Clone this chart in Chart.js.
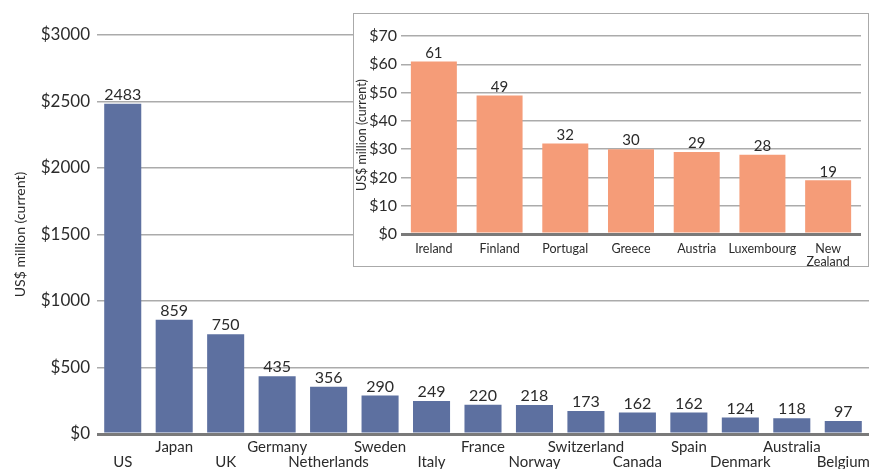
<!DOCTYPE html>
<html>
<head>
<meta charset="utf-8">
<script src="https://cdn.jsdelivr.net/npm/chart.js@4/dist/chart.umd.min.js"></script>
<style>
  html, body { margin: 0; padding: 0; background: #fff; }
  #wrap { position: relative; width: 869px; height: 469px; overflow: hidden; }
  #main { position: absolute; left: 0; top: 0; }
  #insetBox {
    position: absolute; left: 353px; top: 13px; width: 514px; height: 252px;
    background: #fff; border: 1.5px solid #aaa;
  }
  #inset { position: absolute; left: 0; top: 0; }
</style>
</head>
<body>
<div id="wrap">
  <canvas id="main" width="869" height="469"></canvas>
  <div id="insetBox"><canvas id="inset" width="514" height="252"></canvas></div>
</div>
<script>
// ── Data ──────────────────────────────────────────────
const mainCountries = ['US', 'Japan', 'UK', 'Germany', 'Netherlands', 'Sweden', 'Italy', 'France',
  'Norway', 'Switzerland', 'Canada', 'Spain', 'Denmark', 'Australia', 'Belgium']
const mainValues = [2483, 859, 750, 435, 356, 290, 249, 220, 218, 173, 162, 162, 124, 118, 97]
const mainTicks = [0, 500, 1000, 1500, 2000, 2500, 3000]

const insetCountries = ['Ireland', 'Finland', 'Portugal', 'Greece', 'Austria', 'Luxembourg', ['New', 'Zealand']]
const insetValues = [61, 49, 32, 30, 29, 28, 19]
const insetTicks = [0, 10, 20, 30, 40, 50, 60, 70]

const FONT = 'Lato, "Open Sans", sans-serif'
const TEXT = '#2b2b2b'

// ── Value labels above bars ───────────────────────────
const valueLabels = {
  id: 'valueLabels',
  afterDatasetsDraw(chart, args, opts) {
    const ctx = chart.ctx
    const meta = chart.getDatasetMeta(0)
    ctx.save()
    ctx.font = opts.size + 'px ' + FONT
    ctx.fillStyle = TEXT
    ctx.textAlign = 'center'
    ctx.textBaseline = 'bottom'
    meta.data.forEach((bar, i) => {
      ctx.fillText(chart.data.datasets[0].data[i], bar.x, bar.y - 1)
    })
    ctx.restore()
  }
}

function gridColor(c) { return c.tick && c.tick.value === 0 ? '#7a7a7a' : '#ababab' }
function gridWidth(c) { return c.tick && c.tick.value === 0 ? 3 : 1.5 }

// ── Main chart ────────────────────────────────────────
new Chart(document.getElementById('main'), {
  type: 'bar',
  data: {
    labels: mainCountries.map((c, i) => i % 2 === 0 ? ['', c] : [c]),
    datasets: [{ data: mainValues, backgroundColor: '#5d70a0', categoryPercentage: 1, barPercentage: 0.72 }]
  },
  options: {
    responsive: false,
    animation: false,
    layout: { padding: { top: 35, right: 0, left: 0, bottom: 0 } },
    plugins: { legend: { display: false }, tooltip: { enabled: false }, valueLabels: { size: 16 } },
    scales: {
      x: {
        grid: { display: false },
        border: { display: false },
        ticks: { color: TEXT, font: { family: FONT, size: 15, lineHeight: 1.0 }, maxRotation: 0, autoSkip: false, padding: -2 },
        afterFit: s => { s.height = 35 }
      },
      y: {
        min: 0, max: 3000,
        afterBuildTicks: s => { s.ticks = mainTicks.map(v => ({ value: v })) },
        grid: { color: gridColor, lineWidth: gridWidth, drawTicks: false },
        border: { display: false },
        ticks: { color: TEXT, font: { family: FONT, size: 17 }, padding: 7, callback: v => '$' + v },
        title: { display: true, text: 'US$ million (current)', color: TEXT, font: { family: FONT, size: 14 }, padding: { top: 12, bottom: 0 } },
        afterFit: s => { s.width = 97 }
      }
    }
  },
  plugins: [valueLabels]
})

// ── Inset chart ───────────────────────────────────────
new Chart(document.getElementById('inset'), {
  type: 'bar',
  data: {
    labels: insetCountries,
    datasets: [{ data: insetValues, backgroundColor: '#f59c78', categoryPercentage: 1, barPercentage: 0.70 }]
  },
  options: {
    responsive: false,
    animation: false,
    layout: { padding: { top: 22, right: 7, left: 0, bottom: 0 } },
    plugins: { legend: { display: false }, tooltip: { enabled: false }, valueLabels: { size: 15 } },
    scales: {
      x: {
        grid: { display: false },
        border: { display: false },
        ticks: { color: TEXT, font: { family: FONT, size: 12.5, lineHeight: 1.05 }, maxRotation: 0, autoSkip: false, padding: 0 },
        afterFit: s => { s.height = 32 }
      },
      y: {
        min: 0, max: 70,
        afterBuildTicks: s => { s.ticks = insetTicks.map(v => ({ value: v })) },
        grid: { color: gridColor, lineWidth: gridWidth, drawTicks: false },
        border: { display: false },
        ticks: { color: TEXT, font: { family: FONT, size: 16 }, padding: 4, callback: v => '$' + v },
        title: { display: true, text: 'US$ million (current)', color: TEXT, font: { family: FONT, size: 12.5 }, padding: 0 },
        afterFit: s => { s.width = 47 }
      }
    }
  },
  plugins: [valueLabels]
})
</script>
</body>
</html>
